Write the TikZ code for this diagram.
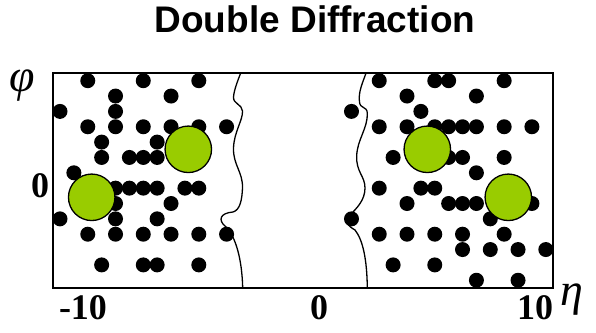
\documentclass[tikz,border=0pt]{standalone}
\usepackage{fontspec}
\setmainfont{Liberation Serif}
\newfontfamily\titlefont{Liberation Sans}
\usepackage{xcolor}
\usepackage{tikz}
\definecolor{blobgreen}{HTML}{99CC00}
\tikzset{
  hit/.style     = {circle, fill=black, inner sep=0pt, minimum size=15pt},
  blob/.style    = {circle, draw=black, fill=blobgreen, line width=1.3pt, inner sep=0pt, minimum size=46.5pt},
  gap/.style     = {line width=1.3pt},
  tick/.style    = {font=\fontsize{36}{36}\selectfont\bfseries},
  axis/.style    = {font=\fontsize{46}{46}\selectfont\itshape},
}

\begin{document}
\begin{tikzpicture}[x=1pt, y=-1pt]
  \useasboundingbox (0,0) rectangle (596,332);
  \node[font=\titlefont\fontsize{37}{37}\selectfont\bfseries] (title) at (315,19) {Double Diffraction};

  % detector plane
  \draw[line width=1.7pt] (53,73) rectangle (553,288);

  % particle hits, grid index k (eta) / j (phi)
  \foreach \k/\j in {2/0,6/0,10/0, 4/1,8/1, 0/2,4/2, 2/3,4/3,6/3,8/3,10/3,12/3,
      3/4,7/4, 3/5,5/5,6/5,7/5,9/5, 1/6, 4/7,5/7,6/7,7/7,9/7,10/7, 4/8,8/8,
      0/9,4/9,7/9, 2/10,4/10,6/10,8/10,10/10,12/10, 3/12,6/12,7/12,10/12,
      23/0,27/0,28/0,32/0, 25/1,30/1, 21/2,26/2,
      23/3,25/3,27/3,28/3,29/3,30/3,32/3,34/3, 24/5,28/5,29/5,32/5, 30/6,
      23/7,26/7,27/7, 25/8,28/8,29/8,30/8,34/8, 21/9,31/9,
      23/10,25/10,27/10,29/10,32/10, 29/11,31/11,33/11,35/11, 24/12,27/12, 30/13,33/13}
    \node[hit] (h-\k-\j) at ({60+13.88*\k},{80.7+15.35*\j}) {};

  % rapidity gap edges
  \draw[gap] (240.7,73) .. controls (238,80) and (234,90) .. (233.5,97)
    .. controls (233,104) and (242,104) .. (242.5,111)
    .. controls (243,120) and (234,132) .. (233.5,148)
    .. controls (233,165) and (243,172) .. (242.5,188)
    .. controls (242,200) and (240,210) .. (233,212)
    .. controls (220,213) and (218,220) .. (225,226)
    .. controls (236,236) and (242,260) .. (242.7,288);
  \draw[gap] (366,73) .. controls (363,82) and (358,92) .. (359.5,102)
    .. controls (360,109) and (367,106) .. (367.3,113)
    .. controls (368,128) and (357,140) .. (356.7,156)
    .. controls (356,172) and (365,176) .. (365,188)
    .. controls (365,200) and (357,208) .. (350,215)
    .. controls (343,221) and (348,226) .. (355,230)
    .. controls (363,240) and (367,260) .. (367.3,288);

  % leading clusters
  \node[blob] (b1) at (91.7,197.3) {};
  \node[blob] (b2) at (188.3,149.3) {};
  \node[blob] (b3) at (427.3,149.3) {};
  \node[blob] (b4) at (508.3,197.3) {};

  \node[tick] (tl) at (83,308) {-10};
  \node[tick] (tm) at (319,308) {0};
  \node[tick] (tr) at (535,308) {10};
  \node[tick] (tphi) at (40,186) {0};
  \node[axis] (eta) at (572,300) {η};
  \node[axis] (phi) at (22,86) {φ};
\end{tikzpicture}
\end{document}
